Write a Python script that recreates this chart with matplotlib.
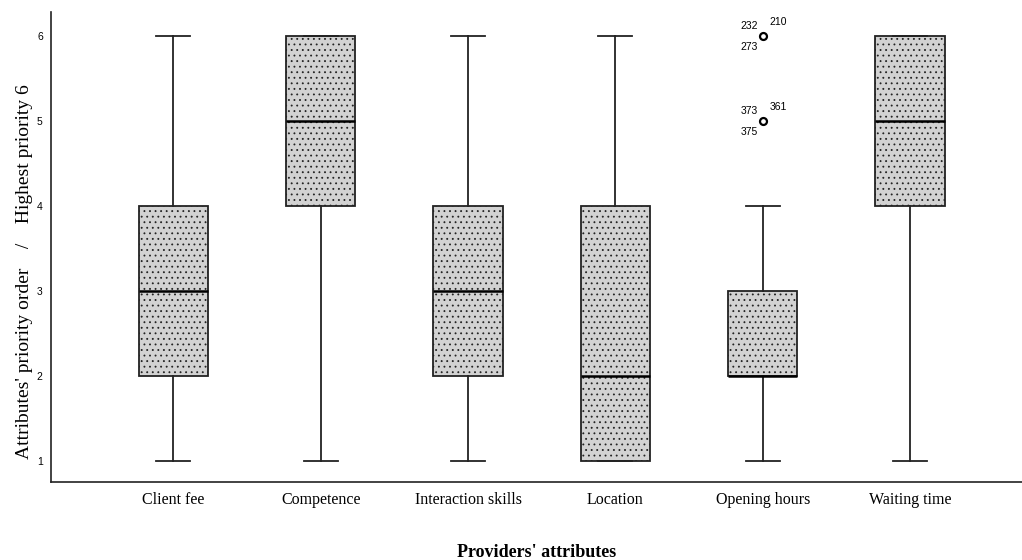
import matplotlib
matplotlib.use("Agg")
import matplotlib.pyplot as plt

# attribute categories and box statistics
attributes = ['Client fee', 'Competence', 'Interaction skills',
              'Location', 'Opening hours', 'Waiting time']
whisker_low = [1, 1, 1, 1, 1, 1]
q1 = [2, 4, 2, 1, 2, 4]
median = [3, 5, 3, 2, 2, 5]
q3 = [4, 6, 4, 4, 3, 6]
whisker_high = [6, 6, 6, 6, 4, 6]
outliers = [[], [], [], [], [5, 6], []]

# case ids next to the outliers of "Opening hours"
outlier_ids = {6: ['232', '210', '273'], 5: ['373', '361', '375']}

plt.rcParams['hatch.color'] = '#555555'
plt.rcParams['hatch.linewidth'] = 0.6

fig = plt.figure(figsize=(10.22, 5.6), dpi=100)
ax = fig.add_axes([0.05, 0.139, 0.95, 0.84])

stats = []
for i, name in enumerate(attributes):
    stats.append({'label': name, 'whislo': whisker_low[i], 'q1': q1[i],
                  'med': median[i], 'q3': q3[i], 'whishi': whisker_high[i],
                  'fliers': outliers[i]})

positions = list(range(1, len(attributes) + 1))
bp = ax.bxp(stats, positions=positions, widths=0.47, capwidths=0.23,
            patch_artist=True, showfliers=True,
            boxprops=dict(facecolor='#d2d2d2', edgecolor='#222222', linewidth=1.3, hatch='...'),
            medianprops=dict(color='black', linewidth=1.8),
            whiskerprops=dict(color='#222222', linewidth=1.3),
            capprops=dict(color='#222222', linewidth=1.3),
            flierprops=dict(marker='o', markersize=5, markerfacecolor='white',
                            markeredgecolor='black', markeredgewidth=1.6))

# outlier labels
x_out = positions[attributes.index('Opening hours')]
offsets = [(-10, 7), (11, 10), (-10, -8)]
for val, ids in outlier_ids.items():
    for lab, off in zip(ids, offsets):
        ax.annotate(lab, xy=(x_out, val), xytext=off, textcoords='offset points',
                    ha='center', va='center', fontsize=7.5, family='Liberation Sans')

ax.set_xlim(0.17, 6.76)
ax.set_ylim(0.75, 6.28)
ax.set_yticks([1, 2, 3, 4, 5, 6])
ax.set_yticklabels(['1', '2', '3', '4', '5', '6'], fontsize=7.5, family='Liberation Sans')
ax.set_xticks(positions)
ax.set_xticklabels(attributes, fontsize=11.5, family='Liberation Serif')
ax.tick_params(axis='y', length=0, pad=6)
ax.tick_params(axis='x', length=0, pad=7)

for s in ['top', 'right']:
    ax.spines[s].set_visible(False)
for s in ['left', 'bottom']:
    ax.spines[s].set_linewidth(1.2)
    ax.spines[s].set_color('#222222')

ax.set_xlabel("Providers' attributes", fontsize=13, fontweight='bold',
              family='Liberation Serif', labelpad=26)
ax.set_ylabel("Attributes' priority order    /    Highest priority 6", fontsize=14,
              family='Liberation Serif')
ax.yaxis.set_label_coords(-0.019, 0.447)

fig.savefig('out.png', dpi=100)
